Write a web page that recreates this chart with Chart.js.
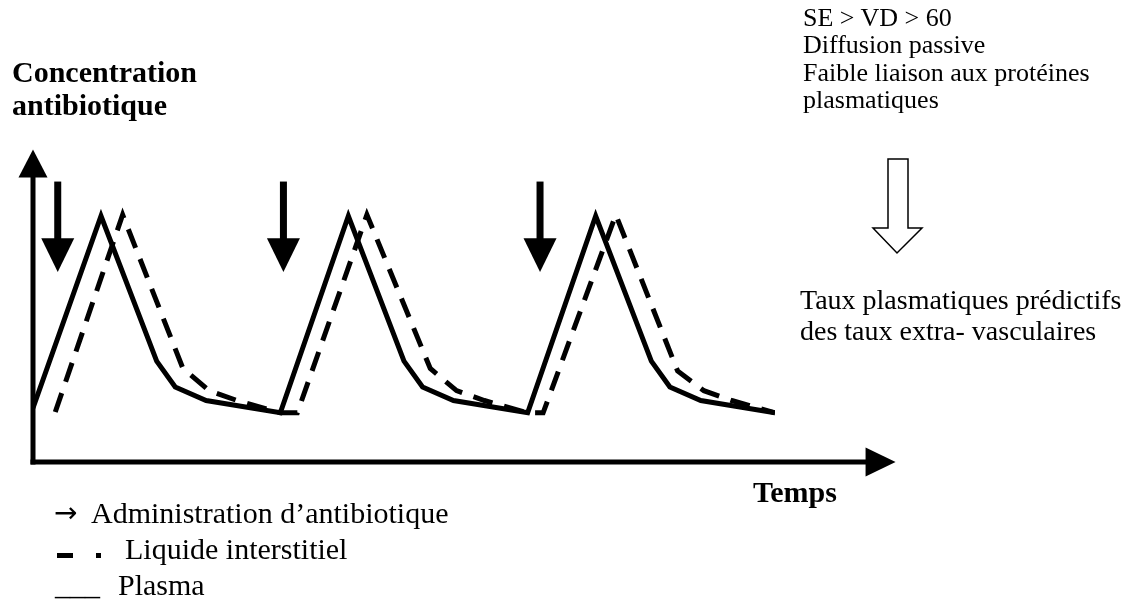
<!DOCTYPE html>
<html>
<head>
<meta charset="utf-8">
<script src="https://cdn.jsdelivr.net/npm/chart.js@4.4.0/dist/chart.umd.min.js"></script>
<style>
  body { margin: 0; background: #fff; }
  #wrap { position: relative; width: 1144px; height: 601px; overflow: hidden; }
  #chart { position: absolute; left: 0; top: 0; }
  .t { position: absolute; white-space: nowrap; color: #000; font-family: 'Liberation Serif', 'DejaVu Serif', serif; }
  .b { font-weight: bold; }
</style>
</head>
<body>
<div id="wrap">
  <canvas id="chart" width="1144" height="601"></canvas>

  <div class="t b" style="left:12px; top:55px; font-size:30px; line-height:33px;">Concentration<br>antibiotique</div>
  <div class="t b" style="left:753px; top:477px; font-size:30px; line-height:30px;">Temps</div>

  <div class="t" style="left:803px; top:4px; font-size:26px; line-height:27.3px;">SE &gt; VD &gt; 60<br>Diffusion passive<br>Faible liaison aux protéines<br>plasmatiques</div>
  <div class="t" style="left:800px; top:284px; font-size:28px; line-height:31px;">Taux plasmatiques prédictifs<br>des taux extra- vasculaires</div>

  <!-- legende -->
  <div class="t" style="left:54px; top:498px; font-size:28px; line-height:30px; font-family:'DejaVu Sans', sans-serif;">→</div>
  <div class="t" style="left:91px; top:498px; font-size:30px; line-height:30px;">Administration d’antibiotique</div>
  <div style="position:absolute; left:57px; top:553px; width:16px; height:5px; background:#000;"></div>
  <div style="position:absolute; left:96px; top:553px; width:5px; height:5px; background:#000;"></div>
  <div class="t" style="left:125px; top:534px; font-size:30px; line-height:30px;">Liquide interstitiel</div>
  <div class="t" style="left:55px; top:570px; font-size:30px; line-height:30px;">___</div>
  <div class="t" style="left:118px; top:570px; font-size:30px; line-height:30px;">Plasma</div>

  <svg style="position:absolute; left:0; top:0;" width="1144" height="601">
    <polygon points="888,159 908,159 908,228 922,228 897,253 873,228 888,228" fill="#fff" stroke="#000" stroke-width="1.5"/>
  </svg>
</div>

<script>
// temps (unites arbitraires) et concentration
const plasmaTime = [0, 2.2, 4.0, 4.6, 5.6, 8.0, 10.2, 12.0, 12.6, 13.6, 16.0, 18.2, 20.0, 20.6, 21.6, 24.0];
const plasmaConc = [2.2, 10, 4.1, 3.05, 2.5, 2.0, 10, 4.1, 3.05, 2.5, 2.0, 10, 4.1, 3.05, 2.5, 2.0];

const interTime = [0.72, 2.9, 4.85, 5.7, 6.6, 8.0, 8.55, 10.8, 12.85, 13.7, 14.6, 16.0, 16.5, 18.85, 20.85, 21.7, 22.6, 24.0];
const interConc = [2.03, 10.05, 3.8, 2.9, 2.5, 2.0, 2.0, 10.05, 3.8, 2.9, 2.5, 2.0, 2.0, 10.05, 3.7, 2.9, 2.5, 2.0];

// moments d'administration (fleches noires)
const doseTimes = [0.8, 8.1, 16.4];

const xMax = 24, yMax = 12;
const xAxisEnd = 27.9, yAxisEnd = 12.7;

function toPoints(xs, ys) {
  return xs.map((x, i) => ({ x: x, y: ys[i] }));
}

//axes en fleches + fleches d'administration
const arrowPlugin = {
  id: 'arrows',
  afterDatasetsDraw(chart) {
    const ctx = chart.ctx;
    const sx = chart.scales.x, sy = chart.scales.y;
    const x0 = sx.getPixelForValue(0), y0 = sy.getPixelForValue(0);
    ctx.save();
    ctx.fillStyle = '#000';
    ctx.strokeStyle = '#000';
    ctx.lineWidth = 5;
    ctx.lineCap = 'butt';

    // axe y
    const yTip = sy.getPixelForValue(yAxisEnd);
    ctx.beginPath();
    ctx.moveTo(x0, y0 + 2.5);
    ctx.lineTo(x0, yTip + 26);
    ctx.stroke();
    ctx.beginPath();
    ctx.moveTo(x0, yTip);
    ctx.lineTo(x0 - 14.5, yTip + 28);
    ctx.lineTo(x0 + 14.5, yTip + 28);
    ctx.closePath();
    ctx.fill();

    // axe x
    const xTip = sx.getPixelForValue(xAxisEnd);
    ctx.beginPath();
    ctx.moveTo(x0 - 2.5, y0);
    ctx.lineTo(xTip - 28, y0);
    ctx.stroke();
    ctx.beginPath();
    ctx.moveTo(xTip, y0);
    ctx.lineTo(xTip - 30, y0 - 14.5);
    ctx.lineTo(xTip - 30, y0 + 14.5);
    ctx.closePath();
    ctx.fill();

    // administrations
    const top = sy.getPixelForValue(11.4);
    const base = sy.getPixelForValue(9.1);
    const tip = sy.getPixelForValue(7.72);
    doseTimes.forEach(t => {
      const x = sx.getPixelForValue(t);
      ctx.fillRect(x - 3.5, top, 7, base - top + 1);
      ctx.beginPath();
      ctx.moveTo(x - 16.5, base);
      ctx.lineTo(x + 16.5, base);
      ctx.lineTo(x, tip);
      ctx.closePath();
      ctx.fill();
    });
    ctx.restore();
  }
};

const ctx = document.querySelector('#chart').getContext('2d');
const chart = new Chart(ctx, {
  type: 'line',
  data: {
    datasets: [{
      label: 'Plasma',
      data: toPoints(plasmaTime, plasmaConc),
      borderColor: '#000',
      borderWidth: 5,
      pointRadius: 0,
      tension: 0,
      fill: false
    }, {
      label: 'Liquide interstitiel',
      data: toPoints(interTime, interConc),
      borderColor: '#000',
      borderWidth: 5,
      borderDash: [20, 12],
      pointRadius: 0,
      tension: 0,
      fill: false
    }]
  },
  options: {
    responsive: false,
    animation: false,
    devicePixelRatio: 1,
    layout: {
      padding: { left: 33, right: 369, top: 462 - yMax * 24.6, bottom: 139 }
    },
    scales: {
      x: { type: 'linear', min: 0, max: xMax, display: false },
      y: { type: 'linear', min: 0, max: yMax, display: false }
    },
    plugins: {
      legend: { display: false },
      tooltip: { enabled: false }
    },
    elements: { line: { borderJoinStyle: 'miter' } }
  },
  plugins: [arrowPlugin]
});
</script>
</body>
</html>
